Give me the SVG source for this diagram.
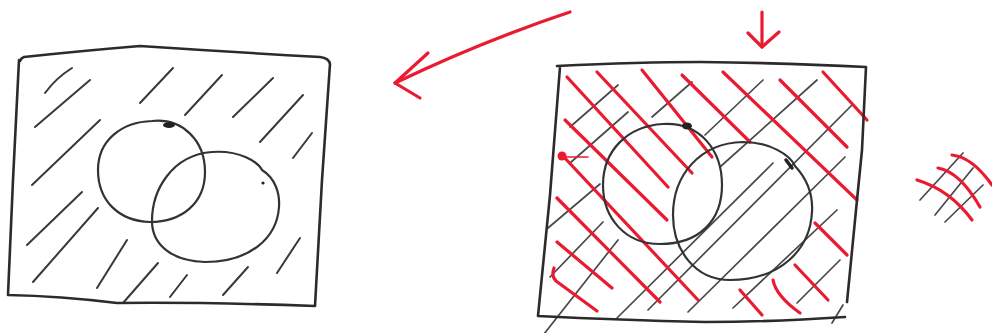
<svg xmlns="http://www.w3.org/2000/svg" width="992" height="333" viewBox="0 0 992 333">
<style>
.bg{fill:#ffffff}
.edge{fill:none;stroke:#2e2a2a;stroke-width:2.6;stroke-linecap:round;stroke-linejoin:round}
.circ{fill:none;stroke:#333;stroke-width:2.2;stroke-linecap:round}
.hk{fill:none;stroke:#3a3838;stroke-width:2;stroke-linecap:round}
.hk2{fill:none;stroke:#4a4848;stroke-width:1.7;stroke-linecap:round}
.rd{fill:none;stroke:#ea1b30;stroke-width:3.2;stroke-linecap:round;stroke-linejoin:round}
.rdt{fill:none;stroke:#ea1b30;stroke-width:1.5;stroke-linecap:round}
</style>
<rect class="bg" x="0" y="0" width="992" height="333"/>

<g id="left-panel">
  <g id="left-hatch">
    <path class="hk" d="M45,93 Q56,78 72,68"/>
    <path class="hk" d="M35,127 L90,80"/>
    <path class="hk" d="M140,103 L173,68"/>
    <path class="hk" d="M185,115 L222,75"/>
    <path class="hk" d="M233,117 L273,78"/>
    <path class="hk" d="M260,142 L303,95"/>
    <path class="hk" d="M293,158 L312,133"/>
    <path class="hk" d="M32,185 L100,120"/>
    <path class="hk" d="M27,245 L82,192"/>
    <path class="hk" d="M33,282 L98,208"/>
    <path class="hk" d="M97,288 L127,240"/>
    <path class="hk" d="M123,303 L158,263"/>
    <path class="hk" d="M170,297 L187,275"/>
    <path class="hk" d="M223,295 L248,267"/>
    <path class="hk" d="M277,273 L300,238"/>
  </g>
  <path id="left-box" class="edge" d="M20,61 Q21,58 24,57 Q80,51 140,46 Q230,52 320,57 Q329,58 330,64 L322,180 L315,306 Q200,302 117,303 Q60,296 8,295 L13,180 L19,60"/>
  <path id="left-circle-1" class="circ" d="M152,121 C182,118 205,140 205,172 C205,203 182,222 150,222 C118,221 98,200 98,170 C98,140 122,122 152,121 Z"/>
  <path id="left-circle-2" class="circ" d="M212,152 C240,150 258,162 262,170 C275,178 280,193 279,207 C277,238 250,262 205,262 C172,261 152,245 152,221 C152,190 172,155 212,152 Z"/>
  <ellipse cx="169" cy="125" rx="6" ry="3" fill="#222"/>
  <circle cx="263" cy="183" r="1.6" fill="#222"/>
</g>

<g id="arrows">
  <path class="rd" d="M570,12 Q480,42 395,83"/>
  <path class="rd" d="M428,53 L395,83 L420,98"/>
  <path class="rd" d="M762,12 L762,47"/>
  <path class="rd" d="M748,33 L762,47 L779,32"/>
</g>

<g id="right-panel">
  <g id="right-black-hatch">
    <path class="hk2" d="M570,127 L618,85"/>
    <path class="hk2" d="M570,163 L628,112"/>
    <path class="hk2" d="M652,117 L692,82"/>
    <path class="hk2" d="M705,135 L763,80"/>
    <path class="hk2" d="M720,167 L817,80"/>
    <path class="hk2" d="M548,228 L600,184"/>
    <path class="hk2" d="M550,277 L603,222"/>
    <path class="hk2" d="M544,334 L618,240"/>
    <path class="hk2" d="M617,318 L773,163"/>
    <path class="hk2" d="M648,310 L852,105"/>
    <path class="hk2" d="M688,312 L845,157"/>
    <path class="hk2" d="M733,308 L837,210"/>
    <path class="hk2" d="M797,303 L840,260"/>
    <path class="hk2" d="M832,323 L843,305"/>
  </g>
  <g id="right-red-hatch">
    <path class="rd" d="M567,77 L668,187"/>
    <path class="rd" d="M597,72 L692,173"/>
    <path class="rd" d="M642,70 L712,157"/>
    <path class="rd" d="M682,75 L750,142"/>
    <path class="rd" d="M723,72 L857,200"/>
    <path class="rd" d="M780,80 L847,147"/>
    <path class="rd" d="M823,72 L867,120"/>
    <path class="rd" d="M565,120 L667,220"/>
    <path class="rd" d="M562,155 L698,300"/>
    <path class="rd" d="M557,198 L660,302"/>
    <path class="rd" d="M557,242 L612,288"/>
    <path class="rd" d="M554,268 Q551,276 556,281 L597,311"/>
    <path class="rd" d="M815,223 L847,255"/>
    <path class="rd" d="M795,265 L828,300"/>
    <path class="rd" d="M773,280 Q776,296 800,313"/>
    <path class="rd" d="M740,290 L762,315"/>
    <path class="rdt" d="M562,157 L588,157"/>
    <circle cx="562" cy="156" r="4.5" fill="#ea1b30"/>
  </g>
  <path id="right-box" class="edge" d="M557,66 Q640,62 700,62 Q790,63 866,67 L862,150 L857,200 L847,302 M845,317 Q770,322 705,322 Q620,320 538,316 L550,195 L560,67"/>
  <path id="right-circle-a" class="circ" d="M663,124 C700,122 722,150 722,185 C722,220 700,244 660,244 C625,244 603,218 603,185 C603,150 628,126 663,124 Z"/>
  <path id="right-circle-b" class="circ" d="M743,142 C770,142 790,155 795,166 C808,180 813,196 812,212 C810,250 780,280 730,280 C695,280 673,250 673,215 C673,175 700,143 743,142 Z"/>
  <ellipse cx="687" cy="126" rx="5" ry="3.5" fill="#222"/>
  <path d="M786,160 L792,168" stroke="#222" stroke-width="3.5" stroke-linecap="round"/>
</g>

<g id="small-crosshatch">
  <path class="hk2" d="M920,200 L963,153"/>
  <path class="hk2" d="M935,215 L973,168"/>
  <path class="hk2" d="M945,222 L983,185"/>
  <path class="rd" d="M952,155 Q972,157 992,185"/>
  <path class="rd" d="M938,168 Q960,172 980,207"/>
  <path class="rd" d="M917,180 Q950,190 972,220"/>
</g>
</svg>
